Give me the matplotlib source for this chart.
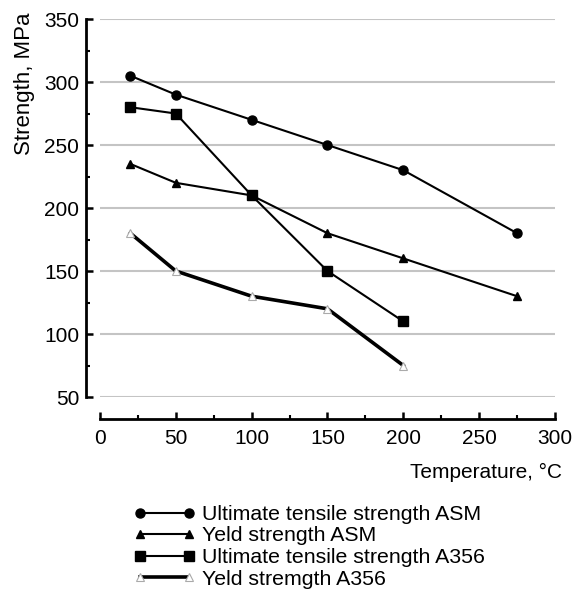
import matplotlib
matplotlib.use("Agg")
import matplotlib.pyplot as plt
from matplotlib.ticker import MultipleLocator

plt.rcParams['font.family'] = ['Liberation Sans', 'DejaVu Sans']

temp_asm = [20, 50, 100, 150, 200, 275]
uts_asm = [305, 290, 270, 250, 230, 180]
ys_asm = [235, 220, 210, 180, 160, 130]
temp_a356 = [20, 50, 100, 150, 200]
uts_a356 = [280, 275, 210, 150, 110]
ys_a356 = [180, 150, 130, 120, 75]

labels = ["Ultimate tensile strength ASM", "Yeld strength ASM",
          "Ultimate tensile strength A356", "Yeld stremgth A356"]

fig = plt.figure(figsize=(5.79, 6.04), dpi=100)
ax = fig.add_axes([0.1727, 0.3427, 0.7858, 0.6258])

ax.set_xlim(0, 300)
ax.set_ylim(50, 350)

for y in range(50, 351, 50):
    ax.axhline(y, color='#c4c4c4', lw=1.5, zorder=0)

l1, = ax.plot(temp_asm, uts_asm, color='black', lw=1.5, marker='o', ms=6.5, label=labels[0])
l2, = ax.plot(temp_asm, ys_asm, color='black', lw=1.5, marker='^', ms=5.5, label=labels[1])
l3, = ax.plot(temp_a356, uts_a356, color='black', lw=1.5, marker='s', ms=6.5, label=labels[2])
l4, = ax.plot(temp_a356, ys_a356, color='black', lw=2.6, marker='^', ms=6,
              mfc='white', mec='#aaaaaa', mew=0.8, label=labels[3])

for s in ['top', 'right']:
    ax.spines[s].set_visible(False)
ax.spines['left'].set_position(('outward', 10))
ax.spines['bottom'].set_position(('outward', 16))
ax.spines['left'].set_linewidth(2)
ax.spines['bottom'].set_linewidth(2)

ax.xaxis.set_major_locator(MultipleLocator(50))
ax.xaxis.set_minor_locator(MultipleLocator(25))
ax.yaxis.set_major_locator(MultipleLocator(50))
ax.yaxis.set_minor_locator(MultipleLocator(25))
ax.tick_params(which='major', direction='in', length=5, width=1.8, labelsize=15, pad=5)
ax.tick_params(which='minor', direction='in', length=3, width=1.5)
ax.tick_params(axis='x', which='major', pad=7)

fig.text(0.971, 0.217, "Temperature, \u00b0C", ha='right', va='center', fontsize=15)
fig.text(0.042, 0.98, "Strength, MPa", rotation=90, ha='center', va='top', fontsize=16)

leg = fig.legend(handles=[l1, l2, l3, l4], loc='upper left', bbox_to_anchor=(0.231, 0.164),
                 frameon=False, fontsize=15.3, numpoints=2, handlelength=2.9,
                 handletextpad=0.33, labelspacing=0.12, borderaxespad=0, borderpad=0)

fig.savefig("out.png", dpi=100)
